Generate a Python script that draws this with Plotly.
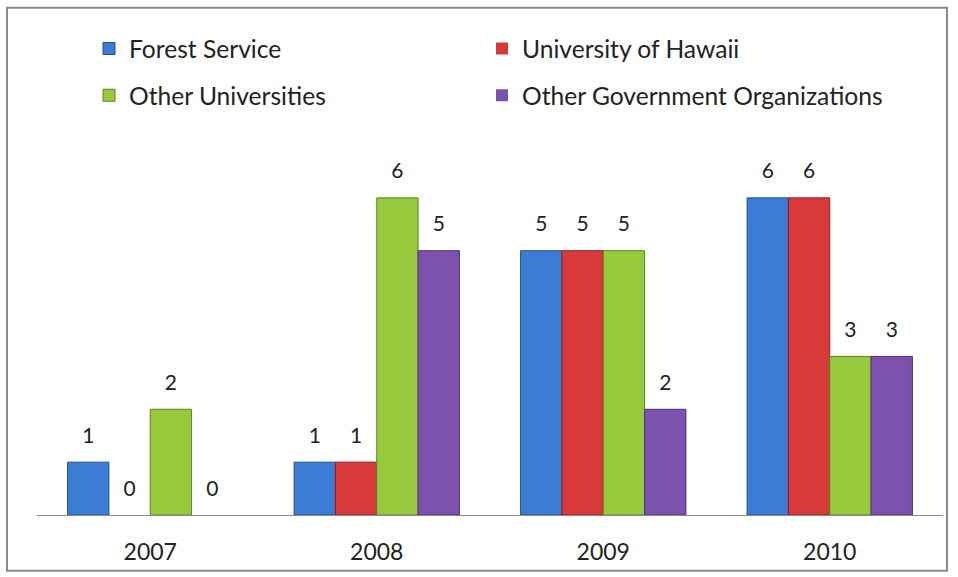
import plotly.graph_objects as go

years = ["2007", "2008", "2009", "2010"]
series_names = ["Forest Service", "University of Hawaii", "Other Universities", "Other Government Organizations"]
forest_service = [1, 1, 5, 6]
univ_hawaii = [0, 1, 5, 6]
other_univ = [2, 6, 5, 3]
other_gov = [0, 5, 2, 3]

values = [forest_service, univ_hawaii, other_univ, other_gov]
colors = ["#3b7dd5", "#d8393a", "#96c93b", "#7b52ad"]
edges = ["#24508f", "#8f2020", "#5e8420", "#4c3175"]
legend_ids = ["legend", "legend2", "legend3", "legend4"]

FONT = "Lato, 'Open Sans', sans-serif"
W, H = 958, 577
L, R, T, B = 37, 15, 145, 60
pw, ph = W - L - R, H - T - B

def px_x(x):
    return (x - L) / pw

def px_y(y):
    return (H - B - y) / ph

fig = go.Figure()
for i, (name, vals, c, e, lg) in enumerate(zip(series_names, values, colors, edges, legend_ids)):
    fig.add_trace(go.Bar(
        x=years, y=vals, name=name,
        marker=dict(color=c, line=dict(color=e, width=[0 if v == 0 else 1 for v in vals])),
        offsetgroup=str(i), alignmentgroup="a",
        legend=lg, hoverinfo="x+y+name",
    ))
for i, vals in enumerate(values):
    fig.add_trace(go.Scatter(
        x=years, y=vals, mode="markers+text",
        text=[str(v) for v in vals], textposition="top center",
        textfont=dict(family=FONT, size=21, color="#222222"),
        marker=dict(size=21, opacity=0),
        offsetgroup=str(i), alignmentgroup="a",
        showlegend=False, hoverinfo="skip", cliponaxis=False,
    ))

legend_common = dict(
    orientation="v", xanchor="left", yanchor="middle",
    font=dict(family=FONT, size=24.6, color="#222222"),
    bgcolor="rgba(0,0,0,0)", itemclick=False, itemdoubleclick=False,
)
col_x = [89, 482, 89, 482]
row_y = [48, 48, 95, 95]

fig.update_layout(
    width=W, height=H,
    margin=dict(l=L, r=R, t=T, b=B),
    paper_bgcolor="white", plot_bgcolor="white",
    barmode="group", bargap=0.27, bargroupgap=0,
    scattermode="group", scattergap=0.27,
    showlegend=True,
    xaxis=dict(
        showline=True, linecolor="#8c8c8c", linewidth=1,
        showgrid=False, ticks="", ticklabelstandoff=16,
        tickfont=dict(family=FONT, size=23, color="#222222"),
        zeroline=False,
    ),
    yaxis=dict(range=[0, 7], visible=False, showgrid=False, zeroline=False),
    shapes=[dict(
        type="rect", xref="paper", yref="paper",
        x0=px_x(7), x1=px_x(947), y0=px_y(573), y1=px_y(7),
        line=dict(color="#8a8a8a", width=2), layer="below",
    )],
)
for lg, cx, ry in zip(legend_ids, col_x, row_y):
    fig.update_layout({lg: dict(x=px_x(cx), y=px_y(ry), **legend_common)})

post = "document.body.style.margin='0';"
fig.write_html("out.html", post_script=post, config={"displayModeBar": False})
